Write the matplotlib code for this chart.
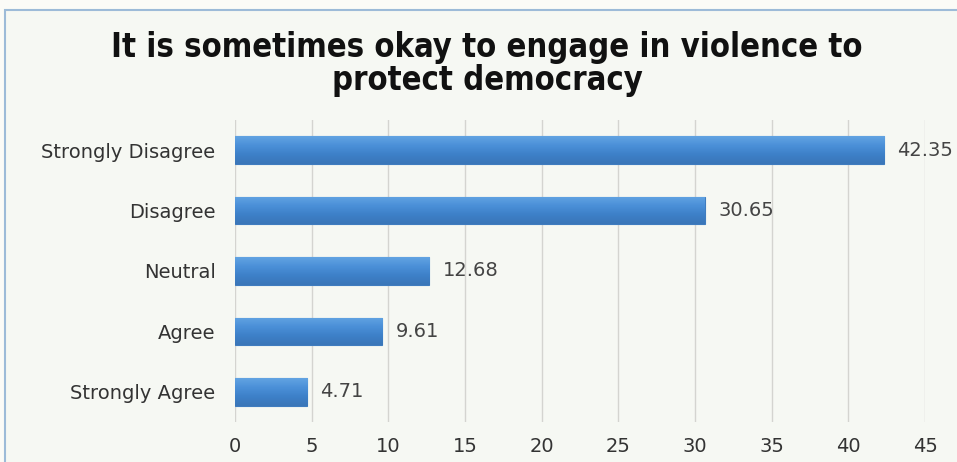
import matplotlib.pyplot as plt
import numpy as np
from matplotlib.patches import Rectangle

categories = ["Strongly Disagree", "Disagree", "Neutral", "Agree", "Strongly Agree"]
values = [42.35, 30.65, 12.68, 9.61, 4.71]
xticks = [0, 5, 10, 15, 20, 25, 30, 35, 40, 45]

fig = plt.figure(figsize=(9.57, 4.62), dpi=100)
fig.patch.set_facecolor("#fbfbf7")

# chart frame (light blue border on the left and top)
fig.add_artist(Rectangle((5 / 957, -0.01), 1.0, 1 - 10 / 462 + 0.01,
                         transform=fig.transFigure, facecolor="#f6f8f3",
                         edgecolor="#9dbbd8", lw=1.5, zorder=0))

ax = fig.add_axes([235 / 957, 40 / 462, 690 / 957, 302 / 462])
ax.set_facecolor("none")

y = np.arange(len(categories))
bars = ax.barh(y, values, height=0.46, color="#4a8fd6", edgecolor="#3f7cbf",
               lw=0.8, zorder=3)

# vertical shading on each bar
grad = np.linspace(0, 1, 64).reshape(-1, 1)
cmap = plt.matplotlib.colors.LinearSegmentedColormap.from_list(
    "barshade", ["#62a3e2", "#4b90d8", "#3d80c8", "#3a76b8"])
for b in bars:
    x0, y0 = b.get_x(), b.get_y()
    w, h = b.get_width(), b.get_height()
    im = ax.imshow(grad, cmap=cmap, aspect="auto", extent=(x0, x0 + w, y0 + h, y0),
                   origin="upper", zorder=4)
    im.set_clip_path(b)
    ax.text(w + 0.85, b.get_y() + h / 2, f"{w:.2f}", va="center", ha="left",
            fontsize=14, color="#444444", clip_on=False, zorder=5)

ax.set_xlim(0, 45)
ax.set_ylim(len(categories) - 0.5, -0.5)
ax.set_xticks(xticks)
ax.set_yticks(y)
ax.set_yticklabels(categories)
ax.tick_params(axis="both", length=0, labelsize=14, labelcolor="#333333")
ax.tick_params(axis="y", pad=14)
ax.tick_params(axis="x", pad=11)
ax.grid(axis="x", color="#d4d4d0", lw=1, zorder=0)
ax.set_axisbelow(True)
for s in ax.spines.values():
    s.set_visible(False)

fig.text(0.509, 0.862, "It is sometimes okay to engage in violence to\nprotect democracy",
         ha="center", va="center", fontsize=23.5, fontweight="bold",
         color="#111111", linespacing=1.0, family="DejaVu Sans",
         fontstretch="condensed")

fig.savefig("out.png", dpi=100, facecolor=fig.get_facecolor())
